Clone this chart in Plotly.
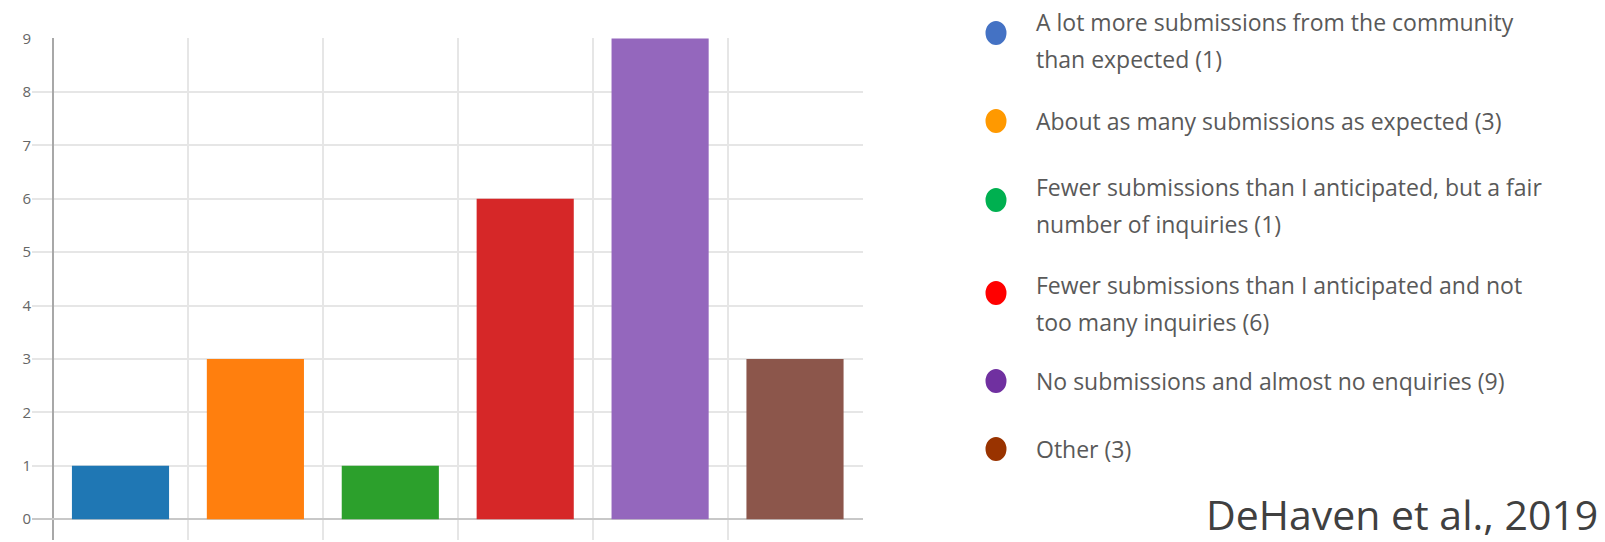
import numpy as np
import plotly.graph_objects as go

categories = [
    "A lot more submissions from the community than expected",
    "About as many submissions as expected",
    "Fewer submissions than I anticipated, but a fair number of inquiries",
    "Fewer submissions than I anticipated and not too many inquiries",
    "No submissions and almost no enquiries",
    "Other",
]
counts = [1, 3, 1, 6, 9, 3]
bar_colors = ["#1f77b4", "#ff7f0e", "#2ca02c", "#d62728", "#9467bd", "#8c564b"]
legend_colors = ["#4472C4", "#FF9900", "#00B050", "#FF0000", "#7030A0", "#993300"]
legend_lines = [
    ["A lot more submissions from the community", "than expected (1)"],
    ["About as many submissions as expected (3)"],
    ["Fewer submissions than I anticipated, but a fair", "number of inquiries (1)"],
    ["Fewer submissions than I anticipated and not", "too many inquiries (6)"],
    ["No submissions and almost no enquiries (9)"],
    ["Other (3)"],
]
y_ticks = list(range(0, 10))
citation = "DeHaven et al., 2019"

W, H = 1605, 542
ML, MR, MT, MB = 32, W - 863, 38, 2
PW, PH = W - ML - MR, H - MT - MB


def px2x(px):
    return (px - ML) / PW


def py2y(py):
    return (H - MB - py) / PH


xpos = np.arange(len(categories)) + 0.5

fig = go.Figure()
fig.add_trace(go.Bar(
    x=xpos, y=counts, width=0.72,
    marker=dict(color=bar_colors, line=dict(width=0)),
    hovertext=categories, showlegend=False,
))

# legend built as layout items
shapes = []
annotations = []
item_top = [22, 121, 187, 285, 381, 449]
dot_offset = [11, 0, 13, 8, 0, 0]
line_gap = 37
for i, lines in enumerate(legend_lines):
    y0 = item_top[i]
    dot_y = y0 + dot_offset[i]
    shapes.append(dict(
        type="circle", xref="paper", yref="paper",
        x0=px2x(996 - 10.5), x1=px2x(996 + 10.5),
        y0=py2y(dot_y + 12), y1=py2y(dot_y - 12),
        fillcolor=legend_colors[i], line=dict(width=0),
    ))
    for j, t in enumerate(lines):
        annotations.append(dict(
            text=t, xref="paper", yref="paper",
            x=px2x(1034), y=py2y(y0 + j * line_gap),
            xanchor="left", yanchor="middle", showarrow=False,
            font=dict(family="Open Sans", size=23, color="#595959"),
        ))

annotations.append(dict(
    text=citation, xref="paper", yref="paper",
    x=px2x(1600), y=py2y(514), xanchor="right", yanchor="middle",
    showarrow=False,
    font=dict(family="Open Sans", size=41, color="#404040"),
))

fig.update_layout(
    width=W, height=H,
    margin=dict(l=ML, r=MR, t=MT, b=MB),
    paper_bgcolor="white", plot_bgcolor="white",
    shapes=shapes, annotations=annotations,
    bargap=0.28,
)
fig.update_xaxes(
    range=[-0.156, 6.004], tickvals=list(range(0, 7)), showticklabels=False,
    showgrid=True, gridcolor="#e6e6e6", gridwidth=2,
    zeroline=True, zerolinecolor="#a8a8a8", zerolinewidth=2,
    showline=False, ticks="",
)
fig.update_yaxes(
    range=[-0.39, 9.01], tickvals=y_ticks,
    tickfont=dict(family="Open Sans", size=15, color="#666666"),
    showgrid=True, gridcolor="#e6e6e6", gridwidth=2,
    zeroline=True, zerolinecolor="#c8c8c8", zerolinewidth=2,
    showline=False, ticks="",
)

fig.write_html("out.html")
